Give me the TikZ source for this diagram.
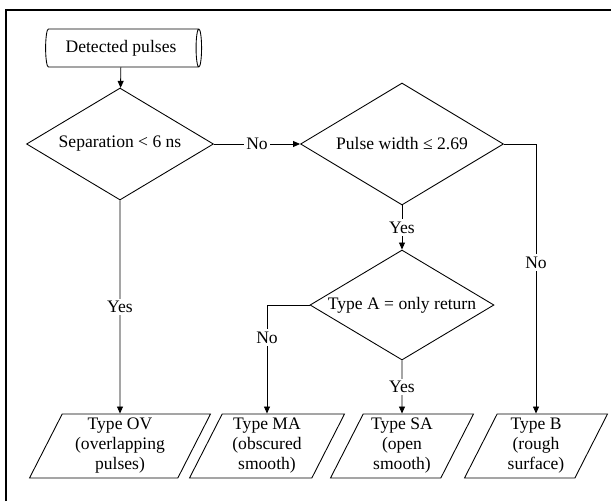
\documentclass[tikz,border=0pt]{standalone}
\usepackage{fontspec}
\setmainfont{Liberation Serif}
\usetikzlibrary{shapes.geometric,arrows.meta}

\begin{document}
\begin{tikzpicture}[x=0.02cm,y=-0.02cm,
  font=\fontsize{10}{11.4}\selectfont,
  line/.style={draw,line width=0.5pt},
  arr/.style={line,-{Triangle[length=4pt,width=3.4pt]}},
  decision/.style={diamond,draw,line width=0.5pt,inner sep=0pt,aspect=1.67},
  result/.style={trapezium,trapezium left angle=61,trapezium right angle=119,
    trapezium stretches body,draw,line width=0.5pt,align=center,
    minimum height=1.28cm,inner sep=1pt},
  lbl/.style={fill=white,inner sep=1.5pt}]
\useasboundingbox (0,0) rectangle (611,501);
\draw[line width=1.2pt] (6,501) -- (6,10) -- (611,10);

\node[cylinder,draw,line width=0.5pt,aspect=0.2,minimum width=0.76cm,minimum height=3.12cm] (input) at (121,48) {Detected pulses};

\node[decision,minimum width=3.74cm,minimum height=2.24cm] (sep) at (120,144) {Separation < 6 ns};
\node[decision,minimum width=4.06cm,minimum height=2.44cm] (pw) at (402,144) {Pulse width ≤ 2.69};
\node[decision,minimum width=3.68cm,minimum height=2.2cm] (typea) at (402,305) {Type A = only return};

\node[result,minimum width=3.62cm] (ov) at (120,446) {Type OV\\(overlapping\\pulses)};
\node[result,minimum width=3.1cm] (ma) at (267,446) {Type MA\\(obscured\\smooth)};
\node[result,minimum width=2.86cm] (sa) at (402,446) {Type SA\\(open\\smooth)};
\node[result,minimum width=2.86cm] (b) at (536,446) {Type B\\(rough\\surface)};

\draw[arr] (input) -- (sep);
\draw[arr] (sep) -- node[lbl]{No} (pw);
\draw[arr] (sep) -- node[lbl]{Yes} (ov);
\draw[arr] (pw) -- node[lbl]{Yes} (typea);
\draw[arr] (pw.east) -| node[lbl,pos=0.72]{No} (b.north);
\draw[arr] (typea.west) -| node[lbl,pos=0.65]{No} (ma.north);
\draw[arr] (typea) -- node[lbl]{Yes} (sa);
\end{tikzpicture}
\end{document}
